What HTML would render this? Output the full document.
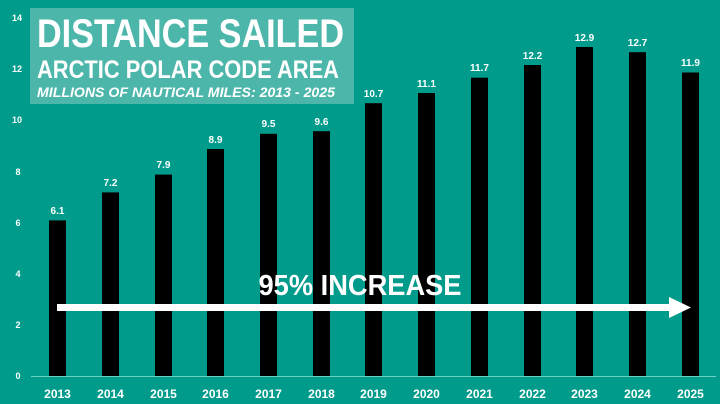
<!DOCTYPE html>
<html><head><meta charset="utf-8"><style>
html,body{margin:0;padding:0;background:#009b8b;}
svg{display:block;}
text{font-family:"Liberation Sans",sans-serif;font-weight:bold;fill:#fff;}
</style></head><body>
<svg width="720" height="404" viewBox="0 0 720 404" xmlns="http://www.w3.org/2000/svg">
<rect width="720" height="404" fill="#009b8b"/>
<g font-size="9" text-anchor="middle">
<text x="18" y="379">0</text><text x="18" y="328">2</text><text x="18" y="277">4</text>
<text x="18" y="226">6</text><text x="18" y="175">8</text><text x="17" y="123">10</text>
<text x="17" y="72">12</text><text x="17" y="21">14</text>
</g>
<g fill="#000">
<rect x="49" y="220.4" width="17" height="155.6"/>
<rect x="102" y="192.4" width="17" height="183.6"/>
<rect x="155" y="174.6" width="17" height="201.4"/>
<rect x="207" y="149" width="17" height="227"/>
<rect x="260" y="133.8" width="17" height="242.2"/>
<rect x="313" y="131.2" width="17" height="244.8"/>
<rect x="365" y="103.2" width="17" height="272.8"/>
<rect x="418" y="93" width="17" height="283"/>
<rect x="471" y="77.7" width="17" height="298.3"/>
<rect x="524" y="65" width="17" height="311"/>
<rect x="576" y="47" width="17" height="329"/>
<rect x="629" y="52.2" width="17" height="323.8"/>
<rect x="682" y="72.5" width="17" height="303.5"/>
</g>
<line x1="31" y1="376.5" x2="716" y2="376.5" stroke="#6fd0c4" stroke-width="1"/>
<g font-size="10" text-anchor="middle">
<text x="57.5" y="214">6.1</text><text x="110.5" y="186">7.2</text><text x="163.5" y="168">7.9</text>
<text x="215.5" y="143">8.9</text><text x="268.5" y="127">9.5</text><text x="321.5" y="125">9.6</text>
<text x="373.5" y="97">10.7</text><text x="426.5" y="87">11.1</text><text x="479.5" y="71">11.7</text>
<text x="532.5" y="59">12.2</text><text x="584.5" y="41">12.9</text><text x="637.5" y="46">12.7</text>
<text x="690.5" y="66">11.9</text>
</g>
<g font-size="12" text-anchor="middle">
<text x="57.5" y="398">2013</text><text x="110.5" y="398">2014</text><text x="163.5" y="398">2015</text>
<text x="215.5" y="398">2016</text><text x="268.5" y="398">2017</text><text x="321.5" y="398">2018</text>
<text x="373.5" y="398">2019</text><text x="426.5" y="398">2020</text><text x="479.5" y="398">2021</text>
<text x="532.5" y="398">2022</text><text x="584.5" y="398">2023</text><text x="637.5" y="398">2024</text>
<text x="690.5" y="398">2025</text>
</g>
<rect x="57" y="304" width="616" height="7" fill="#fff"/>
<polygon points="669,297 691,307.5 669,318" fill="#fff"/>
<text x="360" y="295" font-size="29" text-anchor="middle" textLength="203" lengthAdjust="spacingAndGlyphs">95% INCREASE</text>
<rect x="30" y="8" width="324" height="96" fill="#4db6aa"/>
<text x="37" y="47" font-size="40" textLength="307" lengthAdjust="spacingAndGlyphs">DISTANCE SAILED</text>
<text x="37" y="78" font-size="25" textLength="302" lengthAdjust="spacingAndGlyphs">ARCTIC POLAR CODE AREA</text>
<text x="37" y="97" font-size="14" font-style="italic" textLength="298" lengthAdjust="spacingAndGlyphs">MILLIONS OF NAUTICAL MILES: 2013 - 2025</text>
</svg>
</body></html>
